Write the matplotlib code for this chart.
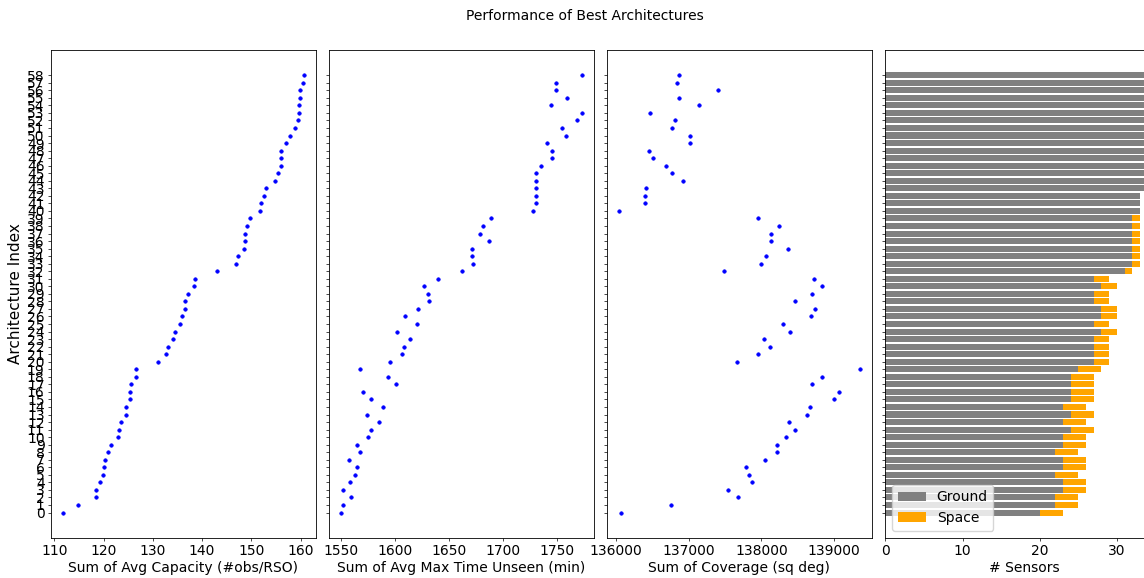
import numpy as np
import matplotlib
matplotlib.use("Agg")
from matplotlib import pyplot as plt

# values, architecture index 0..58
capacity = [111.7, 114.8, 118.4, 118.4, 119.3, 119.8, 120.0, 120.2, 120.8, 121.5,
            122.9, 123.1, 123.5, 124.6, 124.6, 125.3, 125.3, 125.5, 126.5, 126.6,
            131.1, 132.6, 133.1, 134.0, 134.4, 135.5, 135.9, 136.5, 136.5, 137.1,
            138.4, 138.6, 143.1, 146.8, 147.2, 148.5, 148.7, 148.7, 149.1, 149.7,
            151.8, 151.9, 152.5, 153.0, 154.8, 155.5, 156.1, 156.1, 156.1, 157.0,
            157.8, 158.8, 159.5, 159.7, 159.7, 159.9, 159.9, 160.4, 160.6]
unseen = [1550.0, 1551.5, 1558.9, 1552.1, 1557.9, 1562.9, 1564.7, 1557.3, 1567.2, 1564.7,
          1574.6, 1578.0, 1584.8, 1573.7, 1588.5, 1577.7, 1570.3, 1601.1, 1593.4, 1567.9,
          1595.2, 1606.0, 1607.9, 1613.4, 1602.1, 1620.0, 1608.8, 1621.0, 1631.8, 1630.3,
          1626.8, 1639.4, 1662.3, 1671.6, 1670.7, 1670.7, 1686.4, 1678.1, 1681.5, 1688.9,
          1727.8, 1730.6, 1730.6, 1729.9, 1729.9, 1730.3, 1734.5, 1744.7, 1744.7, 1740.4,
          1757.7, 1754.6, 1768.5, 1772.8, 1744.4, 1758.6, 1748.8, 1748.8, 1772.8]
coverage = [136078, 136753, 137677, 137540, 137868, 137836, 137786, 138055, 138215, 138215,
            138338, 138461, 138384, 138630, 138667, 139000, 139060, 138694, 138827, 139348,
            137663, 137959, 138115, 138041, 138397, 138301, 138681, 138740, 138461, 138694,
            138827, 138722, 137489, 137991, 138068, 138370, 138129, 138129, 138242, 137959,
            136041, 136397, 136397, 136411, 136927, 136777, 136690, 136507, 136457, 137023,
            137023, 136767, 136818, 136471, 137147, 136863, 137402, 136841, 136863]
ground = [20, 22, 22, 23, 23, 22, 23, 23, 22, 23,
          23, 24, 23, 24, 23, 24, 24, 24, 24, 25,
          27, 27, 27, 27, 28, 27, 28, 28, 27, 27,
          28, 27, 31, 32, 32, 32, 32, 32, 32, 32,
          33, 33, 33, 34, 34, 35, 34, 35, 35, 35,
          35, 35, 35, 35, 36, 35, 36, 36, 35]
space = [3] * 20 + [2] * 12 + [1] * 8 + [0] * 19

idx = np.arange(len(capacity))

# the reference was drawn at a lower dpi, so ticks and paddings are tighter
plt.rcParams.update({
    'xtick.major.size': 2.2, 'ytick.major.size': 2.2,
    'xtick.major.pad': 2.2, 'ytick.major.pad': 2.2,
    'xtick.major.width': 0.5, 'ytick.major.width': 0.5,
    'axes.labelpad': 2.5, 'axes.linewidth': 0.6,
})


def main():
    fig = plt.figure(figsize=(11.44, 5.78), dpi=100)
    bottom, height = 0.0697, 0.8438
    ax1 = fig.add_axes([0.0443, bottom, 0.2316, height])
    ax2 = fig.add_axes([0.2876, bottom, 0.2316, height], sharey=ax1)
    ax3 = fig.add_axes([0.5303, bottom, 0.2316, height], sharey=ax1)
    ax4 = fig.add_axes([0.7739, bottom, 0.2429, height], sharey=ax1)

    dot = dict(color='blue', markersize=5, markeredgewidth=0.5)
    ax1.plot(capacity, idx, '.', **dot)
    ax1.set_xlabel("Sum of Avg Capacity (#obs/RSO)")
    ax1.set_ylabel("Architecture Index", fontsize=11)

    ax2.plot(unseen, idx, '.', **dot)
    ax2.set_xlabel("Sum of Avg Max Time Unseen (min)")

    ax3.plot(coverage, idx, '.', **dot)
    ax3.set_xlabel("Sum of Coverage (sq deg)")

    ax4.barh(idx, ground, color='grey', label='Ground')
    ax4.barh(idx, space, left=ground, color='orange', label='Space')
    ax4.set_xlabel("# Sensors")
    ax4.legend(loc='lower left')

    ax1.set_yticks(idx)
    for ax in (ax2, ax3, ax4):
        ax.tick_params(labelleft=False)

    fig.suptitle("Performance of Best Architectures", fontsize=10, x=0.511, y=0.972, va='center')
    fig.savefig("out.png", dpi=100)
    print("Done.")


if __name__ == "__main__":
    main()
